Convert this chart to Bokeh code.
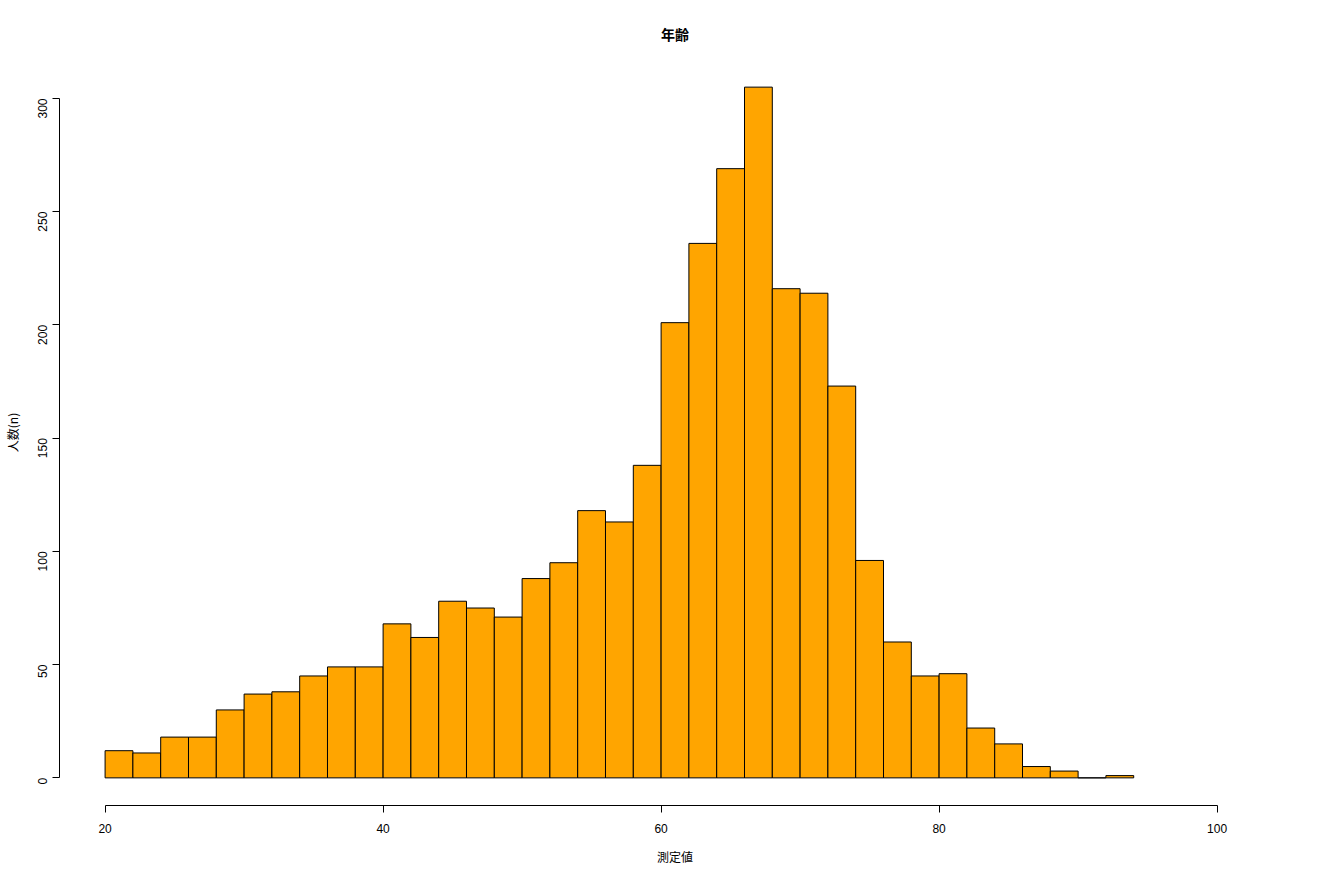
import math
from bokeh.plotting import figure
from bokeh.models import FixedTicker, Range1d
from bokeh.embed import file_html
from bokeh.resources import INLINE

# Histogram of age (bin width 2)
bin_left = [20, 22, 24, 26, 28, 30, 32, 34, 36, 38, 40, 42, 44, 46, 48, 50, 52, 54, 56, 58,
            60, 62, 64, 66, 68, 70, 72, 74, 76, 78, 80, 82, 84, 86, 88, 90, 92]
counts = [12, 11, 18, 18, 30, 37, 38, 45, 49, 49, 68, 62, 78, 75, 71, 88, 95, 118, 113, 138,
          201, 236, 269, 305, 216, 214, 173, 96, 60, 45, 46, 22, 15, 5, 3, 0, 1]
bin_width = 2
x_ticks = [20, 40, 60, 80, 100]
y_ticks = [0, 50, 100, 150, 200, 250, 300]
title_text = "年齢"
x_label = "測定値"
y_label = "人数(n)"

bin_right = [b + bin_width for b in bin_left]
bottoms = [0] * len(counts)

p = figure(frame_width=1231, frame_height=746, output_backend="svg", toolbar_location=None,
           x_range=Range1d(16.72, 105.28), y_range=Range1d(-12.2, 317.2),
           min_border_left=50, min_border_right=10, min_border_top=59, min_border_bottom=58,
           title=title_text)
p.outline_line_color = None
p.grid.visible = False
p.background_fill_color = "white"
p.border_fill_color = "white"

p.title.align = "center"
p.title.text_font = "Noto Sans CJK JP"
p.title.text_font_size = "14px"
p.title.text_font_style = "bold"
p.title.text_color = "black"
p.title.standoff = 32

p.quad(left=bin_left, right=bin_right, bottom=bottoms, top=counts,
       fill_color="#FFA500", line_color="black", line_width=1)

for ax in (p.xaxis[0], p.yaxis[0]):
    ax.axis_line_color = "black"
    ax.axis_line_width = 1
    ax.major_tick_line_color = "black"
    ax.major_tick_out = 7
    ax.major_tick_in = 0
    ax.minor_tick_line_color = None
    ax.major_label_text_font = "Liberation Sans"
    ax.major_label_text_font_size = "12px"
    ax.major_label_text_color = "black"
    ax.major_label_standoff = 8
    ax.axis_label_text_font = "Noto Sans CJK JP"
    ax.axis_label_text_font_size = "12px"
    ax.axis_label_text_font_style = "normal"
    ax.axis_label_text_color = "black"

p.xaxis[0].ticker = FixedTicker(ticks=x_ticks)
p.xaxis[0].bounds = (x_ticks[0], x_ticks[-1])
p.xaxis[0].axis_label = x_label
p.xaxis[0].major_label_standoff = 11
p.xaxis[0].axis_label_standoff = 12

p.yaxis[0].ticker = FixedTicker(ticks=y_ticks)
p.yaxis[0].bounds = (y_ticks[0], y_ticks[-1])
p.yaxis[0].axis_label = y_label
p.yaxis[0].major_label_standoff = 10
p.yaxis[0].axis_label_standoff = 10
p.yaxis[0].major_label_orientation = math.pi / 2

open("out.html", "w").write(file_html(p, INLINE))
